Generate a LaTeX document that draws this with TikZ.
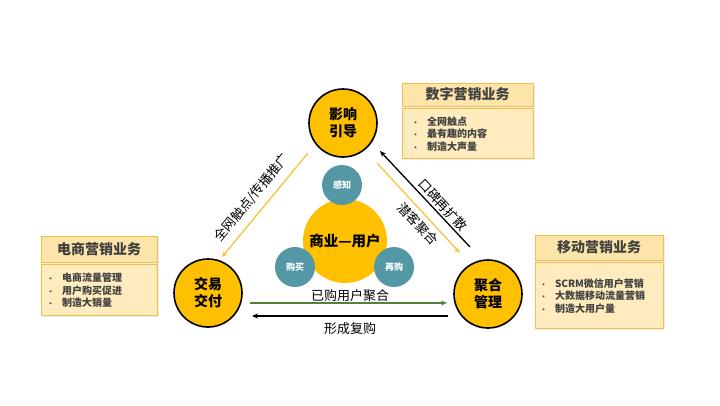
\documentclass[tikz,border=0pt]{standalone}
\usepackage{fontspec}
\setmainfont{Noto Sans CJK SC}
\usetikzlibrary{positioning,arrows.meta,shadows}
% Colours
\definecolor{gold}{RGB}{255,192,0}
\definecolor{stagecol}{RGB}{84,152,166}
\definecolor{boxfill}{RGB}{253,228,168}
\definecolor{bodyfill}{RGB}{254,236,190}
\definecolor{boxline}{RGB}{245,190,70}
\definecolor{flowyellow}{RGB}{245,196,60}
\definecolor{flowgreen}{RGB}{84,130,53}
\definecolor{textgray}{RGB}{64,64,64}
\newcommand{\bitem}[1]{\makebox[15pt][l]{\fontsize{7}{7}\selectfont •}#1}
\tikzset{
    phase/.style={circle, draw=black, line width=1.6pt, fill=gold, minimum size=68pt,
        inner sep=0pt, align=center, font=\bfseries\fontsize{14}{17}\selectfont},
    corecircle/.style={circle, fill=gold, minimum size=84pt, inner sep=0pt,
        font=\bfseries\fontsize{14.5}{16}\selectfont},
    stage/.style={circle, fill=stagecol, minimum size=40pt, inner sep=0pt,
        text=white, font=\bfseries\fontsize{9}{10}\selectfont},
    boxtitle/.style={draw=boxline, fill=boxfill, line width=0.8pt, inner sep=0pt,
        text=textgray, font=\bfseries\fontsize{14}{16}\selectfont,
        drop shadow={shadow xshift=1.5pt, shadow yshift=-1.5pt, opacity=0.15}},
    boxbody/.style={draw=boxline, fill=bodyfill, line width=0.8pt, inner ysep=0pt,
        align=left, text=textgray, font=\bfseries\fontsize{10}{12.5}\selectfont,
        drop shadow={shadow xshift=1.5pt, shadow yshift=-1.5pt, opacity=0.15}},
    flow/.style={line width=1.3pt, -{Stealth[length=6pt,width=5pt]}},
    flowlabel/.style={inner sep=1pt, font=\fontsize{13}{13}\selectfont}
}
\begin{document}
\begin{tikzpicture}[x=1pt,y=-1pt]
    \useasboundingbox (0,0) rectangle (720,405);
    % Phase circles
    \node[phase] (guide) at (343,123) {影响\\引导};
    \node[phase] (deal) at (208,293) {交易\\交付};
    \node[phase] (gather) at (488,294) {聚合\\管理};
    % Centre: business and user
    \node[corecircle] (core) at (345,241) {商业—用户};
    \node[stage] (aware) at (342,185) {感知};
    \node[stage] (buy) at (295,267) {购买};
    \node[stage] (rebuy) at (394,267) {再购};
    % Free ends of the flows
    \coordinate (spreadA) at (308,153);
    \coordinate (spreadB) at (222,257);
    \coordinate (wordA) at (470,247);
    \coordinate (wordB) at (380,151);
    \coordinate (leadA) at (377,163);
    \coordinate (leadB) at (460,253);
    \coordinate (poolA) at (250,303);
    \coordinate (poolB) at (447,303);
    \coordinate (backA) at (448,316);
    \coordinate (backB) at (252,316);
    % Flows between the phases
    \draw[flow, flowyellow] (spreadA) -- (spreadB);
    \draw[flow, black] (wordA) -- (wordB);
    \draw[flow, flowyellow] (leadA) -- (leadB);
    \draw[flow, flowgreen] (poolA) -- (poolB);
    \draw[flow, black] (backA) -- (backB);
    % Flow labels
    \node[flowlabel, rotate=50.4] (spread) at (252,198) {全网触点/传播推广};
    \node[flowlabel, rotate=-46.8] (word) at (443,205) {口碑再扩散};
    \node[flowlabel, rotate=-47.3] (lead) at (418,224) {潜客聚合};
    \node[flowlabel] (pool) at (350,296) {已购用户聚合};
    \node[flowlabel] (back) at (350,329) {形成复购};
    % Business boxes
    \node[boxtitle, minimum width=131pt, minimum height=23pt] (digital) at (467.5,94.5) {数字营销业务};
    \node[boxbody, below=2pt of digital, minimum width=131pt, minimum height=50pt,
        inner xsep=10pt, text width=111pt] (digitalbody)
        {\bitem{全网触点}\\\bitem{最有趣的内容}\\\bitem{制造大声量}};
    \node[boxtitle, minimum width=116pt, minimum height=26pt] (ecom) at (99,249) {电商营销业务};
    \node[boxbody, below=2pt of ecom, minimum width=116pt, minimum height=51pt,
        inner xsep=6pt, text width=104pt] (ecombody)
        {\bitem{电商流量管理}\\\bitem{用户购买促进}\\\bitem{制造大销量}};
    \node[boxtitle, minimum width=128pt, minimum height=25pt] (mobile) at (599,247.5) {移动营销业务};
    \node[boxbody, below=2pt of mobile, minimum width=128pt, minimum height=66pt,
        inner xsep=5pt, text width=118pt] (mobilebody)
        {\bitem{SCRM微信用户营销}\\\bitem{大数据移动流量营销}\\\bitem{制造大用户量}};
\end{tikzpicture}
\end{document}
